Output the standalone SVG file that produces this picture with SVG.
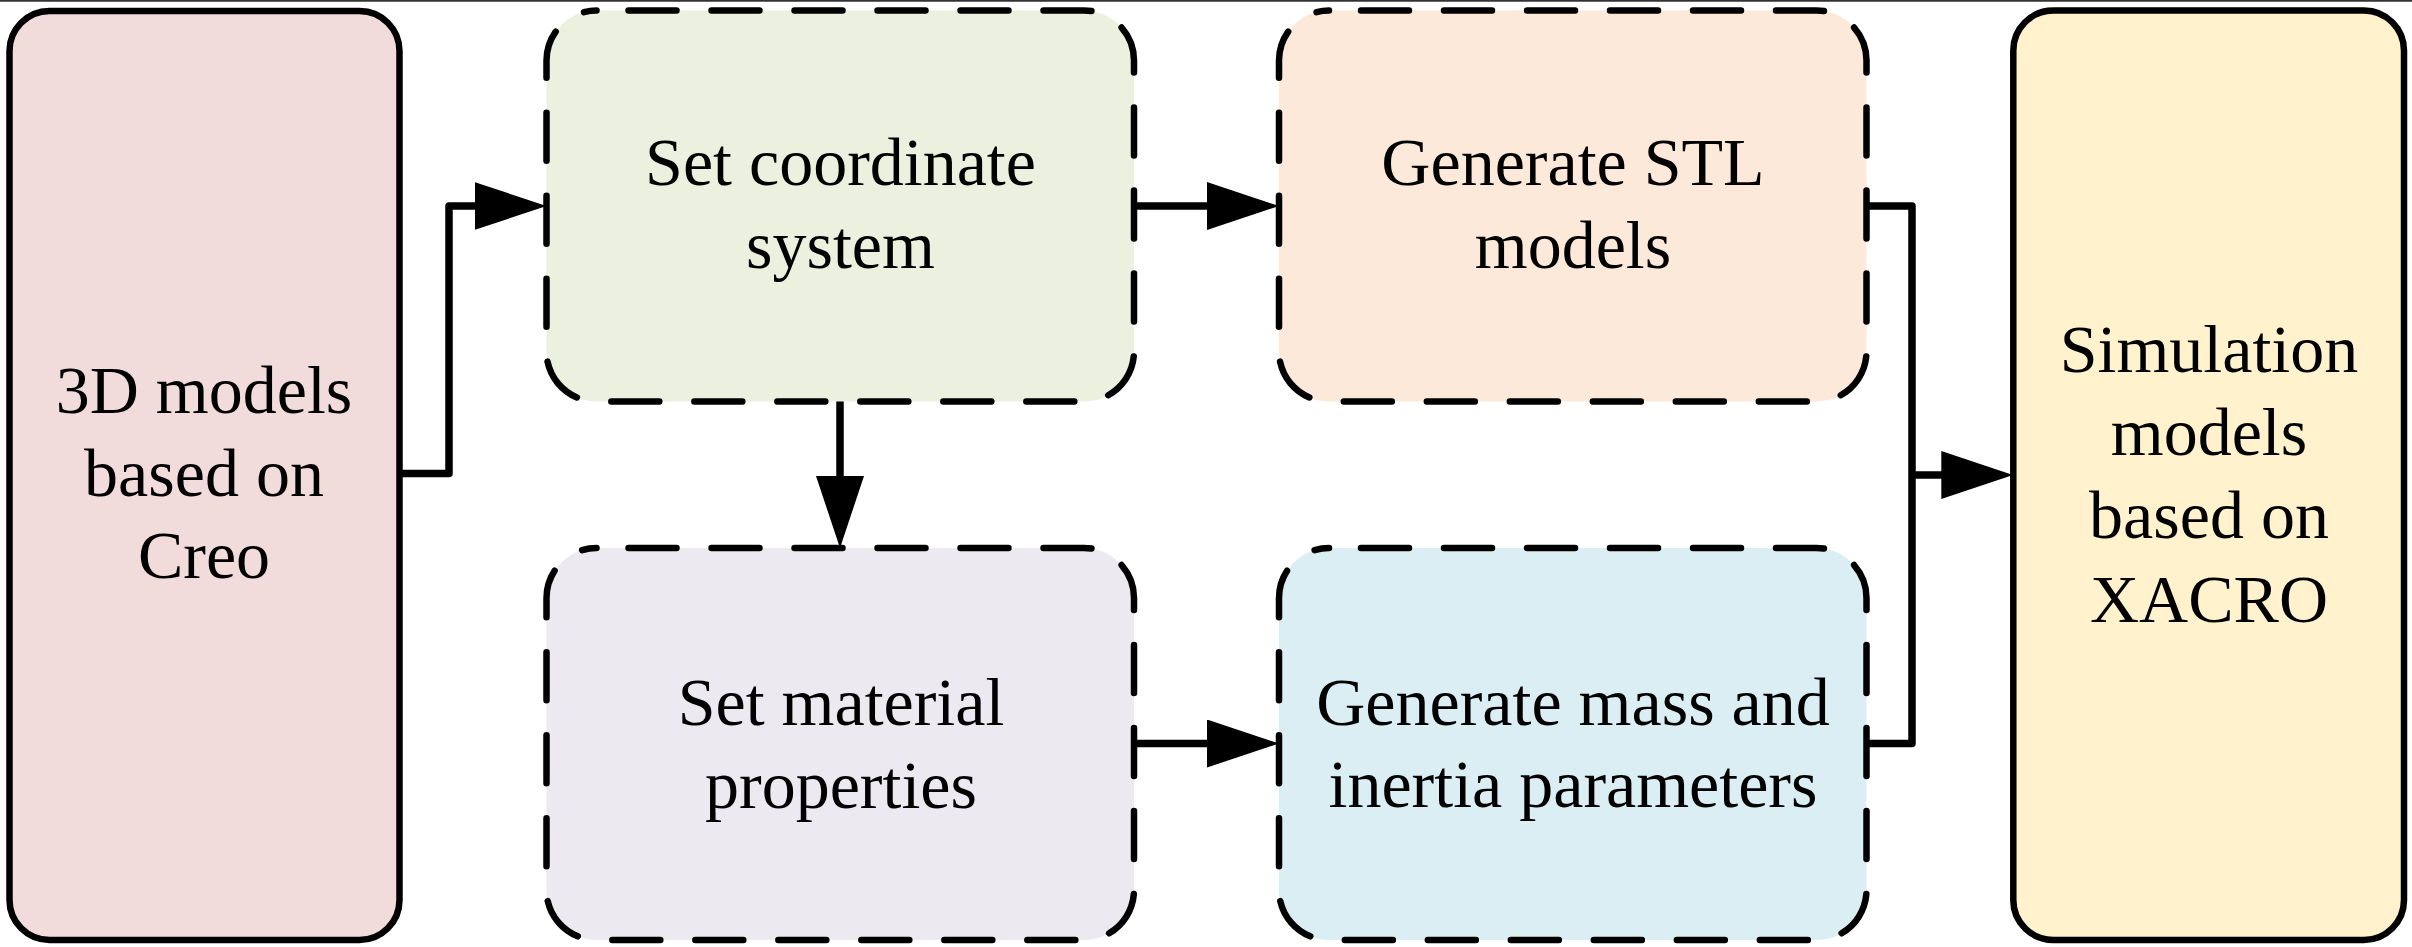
<svg xmlns="http://www.w3.org/2000/svg" width="2412" height="947" viewBox="0 0 2412 947">
<style>
.solid{stroke:#000;stroke-width:6.5;}
.dash{stroke:#000;stroke-width:6.5;stroke-dasharray:48 35;stroke-dashoffset:51;stroke-linecap:round;}
.lbl{font-family:"Liberation Serif","Times New Roman",serif;font-size:68px;fill:#000;text-anchor:middle;}
.conn{fill:none;stroke:#000;stroke-width:7.5;stroke-linejoin:round;stroke-linecap:butt;}
</style>
<defs>
<marker id="arr" markerUnits="userSpaceOnUse" markerWidth="72" markerHeight="48" refX="60" refY="24" orient="auto" viewBox="0 0 72 48">
<path d="M0,0 L72,24 L0,48 Z" fill="#000"/>
</marker>
</defs>
<rect x="0" y="0" width="2412" height="947" fill="#fff"/>
<line x1="0" y1="0.8" x2="2412" y2="0.8" stroke="#333" stroke-width="1.7"/>
<g id="n1">
<rect class="solid" x="9.5" y="11" width="390" height="929" rx="40" ry="40" fill="#F2DCDB"/>
<text class="lbl" x="204" y="413">3D models</text>
<text class="lbl" x="204" y="496">based on</text>
<text class="lbl" x="204" y="578">Creo</text>
</g>
<g id="n2">
<rect class="dash" x="546.5" y="10.5" width="587.5" height="391" rx="50" ry="50" fill="#EBF1DE"/>
<text class="lbl" x="840.5" y="185">Set coordinate</text>
<text class="lbl" x="840.5" y="268">system</text>
</g>
<g id="n3">
<rect class="dash" x="1279" y="10.5" width="587.5" height="391" rx="50" ry="50" fill="#FCE9DA"/>
<text class="lbl" x="1573" y="185">Generate STL</text>
<text class="lbl" x="1573" y="268">models</text>
</g>
<g id="n4">
<rect class="dash" x="546.5" y="548" width="587.5" height="392" rx="50" ry="50" fill="#ECE9F1"/>
<text class="lbl" x="841" y="725">Set material</text>
<text class="lbl" x="841" y="808">properties</text>
</g>
<g id="n5">
<rect class="dash" x="1279" y="548" width="587.5" height="392" rx="50" ry="50" fill="#DBEEF3"/>
<text class="lbl" x="1573" y="725">Generate mass and</text>
<text class="lbl" x="1573" y="807">inertia parameters</text>
</g>
<g id="n6">
<rect class="solid" x="2013.3" y="10.5" width="390.7" height="929.5" rx="40" ry="40" fill="#FFF2CC"/>
<text class="lbl" x="2209" y="372">Simulation</text>
<text class="lbl" x="2209" y="455">models</text>
<text class="lbl" x="2209" y="538">based on</text>
<text class="lbl" x="2209" y="622">XACRO</text>
</g>
<g id="connectors">
<path class="conn" d="M399.5,473.5 H449 V206 H534.5" marker-end="url(#arr)"/>
<path class="conn" d="M1134,206 H1267" marker-end="url(#arr)"/>
<path class="conn" d="M840,401.5 V536" marker-end="url(#arr)"/>
<path class="conn" d="M1134,743.5 H1267" marker-end="url(#arr)"/>
<path class="conn" d="M1866.5,206 H1912 V743.5 H1866.5"/>
<path class="conn" d="M1912,475 H2001.3" marker-end="url(#arr)"/>
</g>
</svg>
